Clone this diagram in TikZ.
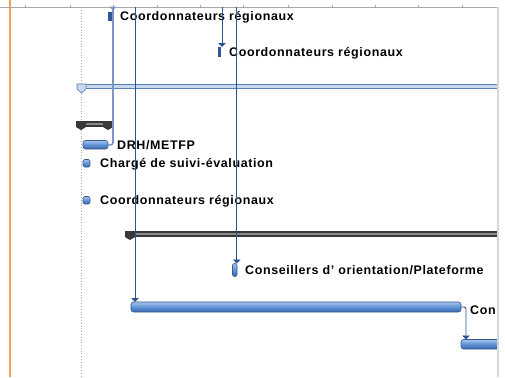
\documentclass[tikz,border=0pt]{standalone}
\usepackage{fontspec}
\usetikzlibrary{arrows.meta}
\newfontfamily\lblfont[LetterSpace=5]{Liberation Sans}
\definecolor{orangeline}{HTML}{F5A05A}
\definecolor{gridgray}{HTML}{A8A8A8}
\definecolor{bordergray}{HTML}{D4D8DE}
\definecolor{linkdark}{HTML}{2E5290}
\definecolor{linklight}{HTML}{7896C6}
\definecolor{barA}{HTML}{A4C2EC}
\definecolor{barB}{HTML}{6092D6}
\definecolor{barC}{HTML}{3A68AE}
\definecolor{barEdge}{HTML}{35598F}
\definecolor{sumDark}{HTML}{383838}
\definecolor{sumMid}{HTML}{8A8A8A}
\definecolor{msDark}{HTML}{2F5896}
\definecolor{rowLight}{HTML}{C8D8EE}
\definecolor{rowEdge}{HTML}{5A7DB2}
\tikzset{
  taskbar/.style={draw=barEdge, line width=0.6bp, rounded corners=2.5bp, top color=barA, bottom color=barC, middle color=barB, inner sep=0pt, outer sep=0pt, anchor=north west},
  milestonebar/.style={fill=msDark, inner sep=0pt, outer sep=0pt, anchor=north west, minimum width=3.5bp, minimum height=9bp},
  lbl/.style={font=\lblfont\bfseries\fontsize{12.5}{13}\selectfont, inner sep=0pt, anchor=west, text=black},
  link/.style={draw=linkdark, line width=0.9bp},
  linkl/.style={draw=linklight, line width=1.6bp},
  tip/.style={-{Triangle[width=7.5bp,length=4bp]}},
}
\begin{document}
\begin{tikzpicture}[x=1bp,y=-1bp]
\useasboundingbox (0,0) rectangle (505,377);
\fill[white] (0,0) rectangle (505,377);
% orange current-date line
\draw[orangeline, line width=1.5bp] (10,0) -- (10,377);
% timescale line with ticks
\draw[gridgray, line width=0.8bp] (0,7) -- (497,7);
\foreach \t in {25,70,113,157,200,243,288,332,375,418,462}
  \draw[gridgray, line width=0.6bp] (\t,4.5) -- (\t,7);
% dotted project start line
\draw[gridgray, line width=0.8bp, dotted] (81,10) -- (81,377);

\begin{scope}
\clip (0,0) rectangle (497,377);
% light summary row
\fill[rowLight] (77,84.5) rectangle (497,88.5);
\draw[rowEdge, line width=0.8bp] (77,84.5) -- (497,84.5) (77,88.5) -- (497,88.5);
\draw[rowEdge, fill=rowLight, line width=0.6bp] (77,84) -- (86,84) -- (86,89) -- (81.5,93) -- (77,89) -- cycle;
% dark summary 1
\fill[sumDark] (76,121) rectangle (113,127);
\fill[sumMid] (86,123) rectangle (103,125);
\fill[sumDark] (76,121) -- (86,121) -- (86,127) -- (81,130) -- (76,127) -- cycle;
\fill[sumDark] (103,121) -- (113,121) -- (113,127) -- (108,130) -- (103,127) -- cycle;
% dark summary 2
\fill[sumDark] (125,231) rectangle (497,237);
\fill[sumMid] (135,233) rectangle (497,235);
\fill[sumDark] (125,231) -- (135,231) -- (135,237) -- (130,240) -- (125,237) -- cycle;

% task bars
\node[milestonebar] (ms1) at (108,12) {};
\node[milestonebar, minimum height=10bp] (ms2) at (217.5,47) {};
\node[taskbar, minimum width=25bp, minimum height=8.5bp] (drh) at (83,140.5) {};
\node[taskbar, minimum width=7bp, minimum height=7.5bp, rounded corners=1.5bp] (cse) at (83,159.5) {};
\node[taskbar, minimum width=7bp, minimum height=7.5bp, rounded corners=1.5bp] (cr3) at (83,196.5) {};
\node[taskbar, minimum width=4.5bp, minimum height=13bp, rounded corners=2bp] (cop) at (232.5,263.5) {};
\node[taskbar, minimum width=330bp, minimum height=10bp] (long) at (131,302) {};
\node[taskbar, minimum width=45bp, minimum height=9.5bp] (last) at (461,339.5) {};

% labels
\node[lbl] (l1) at (120,17.5) {Coordonnateurs régionaux};
\node[lbl] (l2) at (229,53.5) {Coordonnateurs régionaux};
\node[lbl] (l3) at (117,145.5) {DRH/METFP};
\node[lbl] (l4) at (100,164) {Chargé de suivi-évaluation};
\node[lbl] (l5) at (100,201) {Coordonnateurs régionaux};
\node[lbl] (l6) at (245,270.5) {Conseillers d’\hspace{4bp}orientation/Plateforme};
\node[lbl] (l7) at (470,310.5) {Con};

% links
\coordinate (t113) at (113,7);
\coordinate (t135) at (135,7);
\coordinate (t222) at (222,7);
\coordinate (t237) at (236.7,7);
\coordinate (c466) at (466,307);
\draw[linkl, rounded corners=2bp] (drh.east) -| (t113);
\fill[linklight] (109.5,6.5) -- (116.5,6.5) -- (113,10.5) -- cycle;
\draw[link, tip] (t222) -- (t222 |- ms2.north);
\draw[link, tip] (t135) -- (t135 |- long.north);
\draw[link, tip] (t237) -- (t237 |- cop.north);
\draw[link, tip, rounded corners=2bp] (long.east) -- (c466) -- (c466 |- last.north);
\end{scope}
% right border
\draw[bordergray, line width=1.6bp] (497.8,7) -- (497.8,377);
\end{tikzpicture}
\end{document}
